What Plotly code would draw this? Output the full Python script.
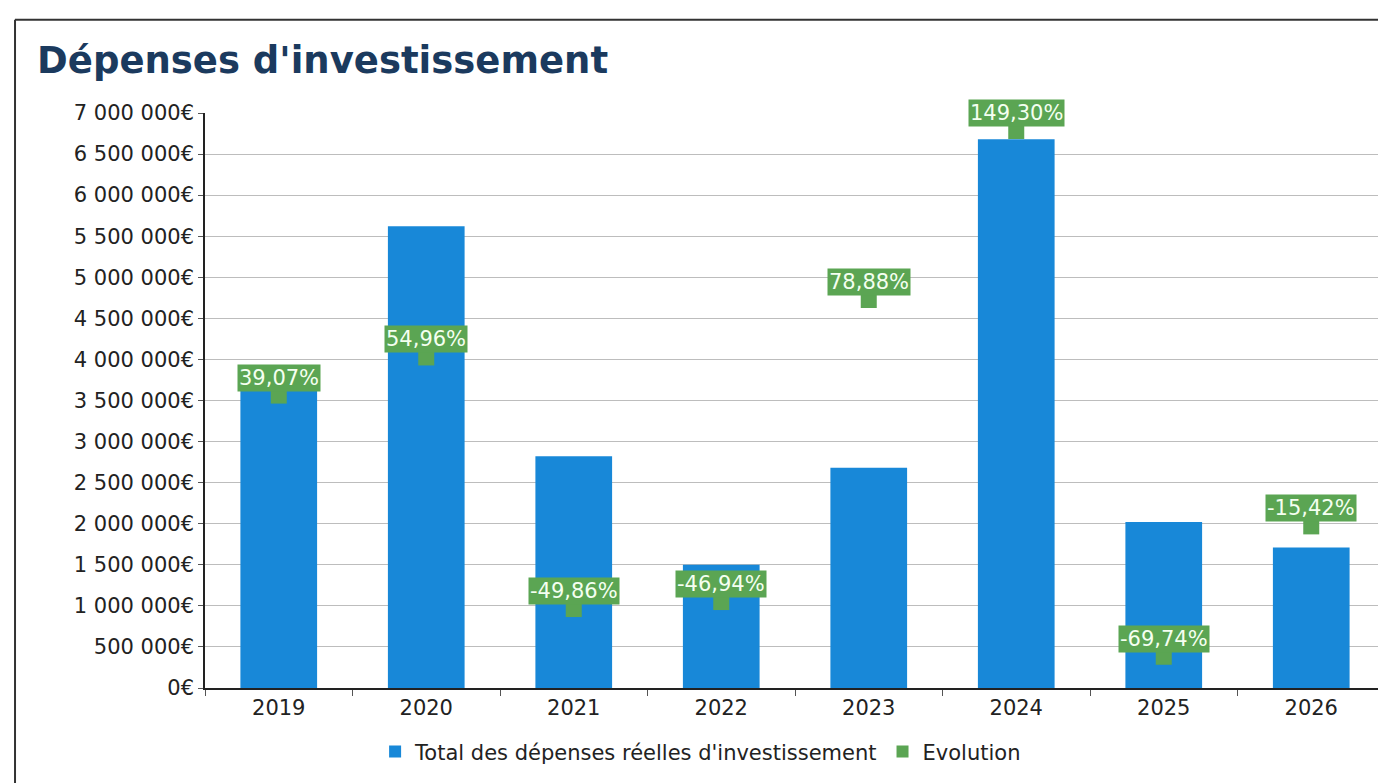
import plotly.graph_objects as go

# data
years = ["2019", "2020", "2021", "2022", "2023", "2024", "2025", "2026"]
depenses = [3630000, 5620000, 2820000, 1500000, 2680000, 6680000, 2020000, 1710000]
evolution = [39.07, 54.96, -49.86, -46.94, 78.88, 149.30, -69.74, -15.42]
evolution_labels = ["39,07%", "54,96%", "-49,86%", "-46,94%", "78,88%", "149,30%", "-69,74%", "-15,42%"]

BLUE = "#1888d8"
GREEN = "#5ba553"

fig = go.Figure()
fig.add_bar(x=years, y=depenses, name="Total des dépenses réelles d'investissement",
            marker=dict(color=BLUE, line=dict(width=0)))
fig.add_trace(go.Scatter(x=years, y=evolution, name="Evolution", mode="markers", yaxis="y2",
                         marker=dict(symbol="square", size=16, color=GREEN)))

# green label boxes above the evolution markers (x as category index)
for i, (ev, lab) in enumerate(zip(evolution, evolution_labels)):
    fig.add_annotation(x=i, y=ev, yref="y2", text=lab, showarrow=False, yshift=18,
                       bgcolor=GREEN, borderpad=1,
                       font=dict(family="DejaVu Sans", size=21, color="#f4fff0"))

# frame around the chart
fig.add_shape(type="line", xref="paper", yref="paper", x0=-0.161, x1=1.01, y0=1.162, y1=1.162,
              line=dict(color="#333333", width=2))
fig.add_shape(type="line", xref="paper", yref="paper", x0=-0.161, x1=-0.161, y0=1.162, y1=-0.2,
              line=dict(color="#333333", width=2))

fig.update_layout(
    width=1386, height=783,
    margin=dict(l=197, r=9, t=105, b=103),
    paper_bgcolor="white", plot_bgcolor="white",
    separators=", ",
    font=dict(family="DejaVu Sans", size=20, color="#222222"),
    title=dict(text="<b>Dépenses d'investissement</b>", xref="container", x=0.021, xanchor="left",
               y=0.934, yanchor="middle", font=dict(family="DejaVu Sans", size=37, color="#1b3a5e")),
    bargap=0.48,
    showlegend=True,
    legend=dict(orientation="h", x=0.42, xanchor="center", y=-0.111, yanchor="middle",
                font=dict(size=21, color="#222222"), itemsizing="constant"),
    xaxis=dict(type="category", range=[-0.5, 7.5], showgrid=False, showline=True,
               linecolor="#222222", linewidth=1.5, ticks="outside", tickson="boundaries",
               ticklen=6, tickcolor="#555555", tickangle=0, tickfont=dict(size=21)),
    yaxis=dict(range=[0, 7000000], dtick=500000, tickformat=",.0f", ticksuffix="€",
               showgrid=True, gridcolor="#bdbdbd", gridwidth=1, showline=True, linecolor="#222222",
               linewidth=1.5, ticks="outside", ticklen=5, tickcolor="#555555", zeroline=False,
               tickfont=dict(size=21)),
    yaxis2=dict(overlaying="y", side="right", range=[-82.75, 156.8], visible=False, showgrid=False),
)

fig.write_html("out.html")
